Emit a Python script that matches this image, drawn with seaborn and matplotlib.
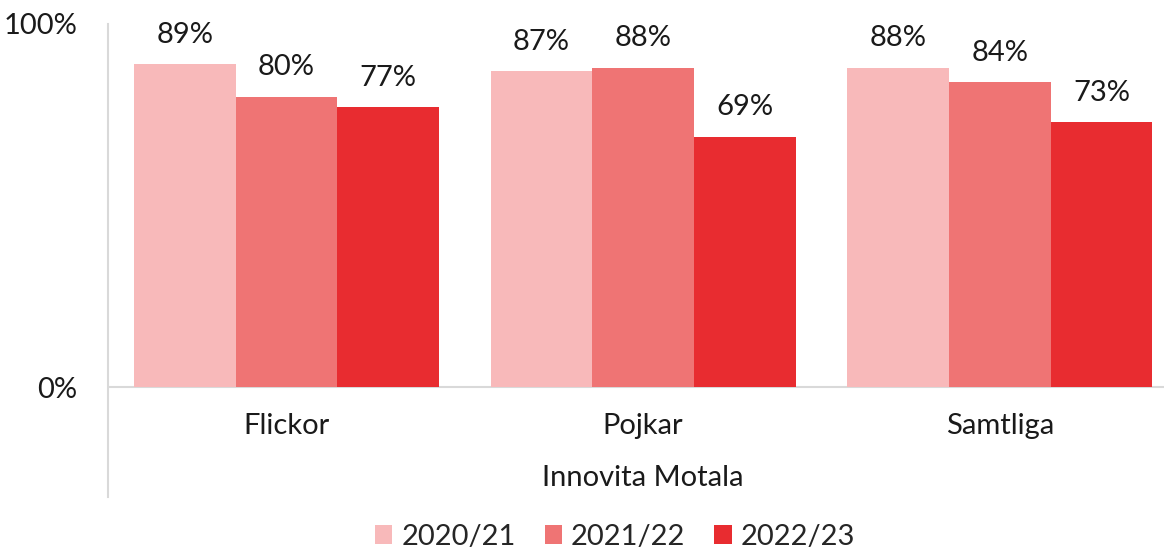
import pandas as pd
import matplotlib.pyplot as plt
import seaborn as sns
from matplotlib.patches import Patch

# Data
categories = ["Flickor", "Pojkar", "Samtliga"]
years = ["2020/21", "2021/22", "2022/23"]
values_2020 = [0.89, 0.87, 0.88]
values_2021 = [0.80, 0.88, 0.84]
values_2022 = [0.77, 0.69, 0.73]
group_label = "Innovita Motala"

colors = ["#F8B9BA", "#EF7474", "#E82C30"]

sns.set_style("white")
plt.rcParams['font.family'] = ['Lato', 'DejaVu Sans']

df = pd.DataFrame({
    "category": categories * 3,
    "year": [y for y in years for _ in categories],
    "value": values_2020 + values_2021 + values_2022,
})

fig = plt.figure(figsize=(11.64, 5.48), dpi=100)
ax = fig.add_axes([108 / 1164, 51 / 548, 1056 / 1164, 473 / 548])

sns.barplot(data=df, x="category", y="value", hue="year", palette=colors,
            width=0.855, ax=ax, legend=False, saturation=1, linewidth=0)

fs = 21
txt = "#1a1a1a"
for cont in ax.containers:
    for bar in cont:
        h = bar.get_height()
        ax.text(bar.get_x() + bar.get_width() / 2, h + 0.045, f"{round(h * 100)}%",
                ha="center", va="bottom", fontsize=fs, color=txt)

ax.set_ylim(-0.303, 1.0)
ax.set_xlim(-0.5, 2.46)
ax.set_yticks([0, 1])
ax.set_yticklabels(["0%", "100%"], fontsize=fs, color=txt)
ax.tick_params(axis="y", length=9, color="#D9D9D9", width=1.5, pad=13)
ax.set_xticks([])
ax.set_xlabel("")
ax.set_ylabel("")

for s in ["top", "right", "bottom"]:
    ax.spines[s].set_visible(False)
ax.spines["left"].set_color("#D9D9D9")
ax.spines["left"].set_linewidth(1.5)
ax.axhline(0, color="#D9D9D9", lw=1.5, zorder=0)

for i, cat in enumerate(categories):
    ax.text(i, -0.107, cat, ha="center", va="center", fontsize=fs, color=txt)
ax.text(1, -0.252, group_label, ha="center", va="center", fontsize=fs, color=txt)

handles = [Patch(facecolor=c, edgecolor="none") for c in colors]
fig.legend(handles, years, loc="center", bbox_to_anchor=(615 / 1164, 1 - 537 / 548),
           ncol=3, frameon=False, fontsize=fs, handlelength=0.6, handleheight=0.6,
           handletextpad=0.3, columnspacing=1.0)

plt.savefig("out.png", dpi=100)
plt.close()
